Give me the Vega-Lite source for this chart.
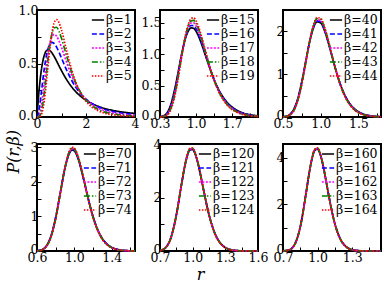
{
"$schema": "https://vega.github.io/schema/vega-lite/v6.json",
"padding": {"left": 3, "right": 2, "top": 3, "bottom": 2},
"background": "white",
"config": {
 "font": "DejaVu Serif",
 "view": {"stroke": "black", "strokeWidth": 2},
 "axis": {"domain": false, "grid": false, "ticks": true, "tickColor": "black", "tickSize": -4, "tickWidth": 1, "labelFont": "DejaVu Serif", "labelFontSize": 12.5, "labelColor": "black", "labelPadding": 3, "labelFlush": false, "labelOverlap": false, "titleFont": "DejaVu Serif", "titleFontSize": 16, "titleFontStyle": "italic", "titleFontWeight": "normal", "titleColor": "black"},
 "axisX": {"labelPadding": 4},
 "legend": {"orient": "top-right", "offset": 3, "padding": 0, "symbolType": "stroke", "symbolSize": 150, "symbolStrokeWidth": 1.8, "labelFont": "DejaVu Serif", "labelFontSize": 12.5, "labelColor": "black", "labelOffset": 1, "rowPadding": -1.5},
 "line": {"strokeWidth": 1.7, "interpolate": "monotone", "clip": true}
},
"datasets": {
"p1": [
{"b":"β=1","r":0,"P":0},{"b":"β=1","r":0.05,"P":0.156},{"b":"β=1","r":0.1,"P":0.286},{"b":"β=1","r":0.2,"P":0.473},{"b":"β=1","r":0.3,"P":0.578},{"b":"β=1","r":0.4,"P":0.622},{"b":"β=1","r":0.5,"P":0.625},{"b":"β=1","r":0.6,"P":0.602},{"b":"β=1","r":0.7,"P":0.566},{"b":"β=1","r":0.8,"P":0.523},{"b":"β=1","r":0.9,"P":0.477},{"b":"β=1","r":1,"P":0.433},{"b":"β=1","r":1.2,"P":0.353},{"b":"β=1","r":1.4,"P":0.286},{"b":"β=1","r":1.6,"P":0.232},{"b":"β=1","r":1.8,"P":0.19},{"b":"β=1","r":2,"P":0.156},{"b":"β=1","r":2.5,"P":0.0995},{"b":"β=1","r":3,"P":0.0665},{"b":"β=1","r":3.5,"P":0.0463},{"b":"β=1","r":4,"P":0.0334},
{"b":"β=2","r":0,"P":0},{"b":"β=2","r":0.05,"P":0.0251},{"b":"β=2","r":0.1,"P":0.089},{"b":"β=2","r":0.2,"P":0.272},{"b":"β=2","r":0.3,"P":0.455},{"b":"β=2","r":0.4,"P":0.591},{"b":"β=2","r":0.5,"P":0.67},{"b":"β=2","r":0.6,"P":0.697},{"b":"β=2","r":0.7,"P":0.687},{"b":"β=2","r":0.8,"P":0.653},{"b":"β=2","r":0.9,"P":0.605},{"b":"β=2","r":1,"P":0.551},{"b":"β=2","r":1.2,"P":0.443},{"b":"β=2","r":1.4,"P":0.349},{"b":"β=2","r":1.6,"P":0.2725},{"b":"β=2","r":1.8,"P":0.213},{"b":"β=2","r":2,"P":0.167},{"b":"β=2","r":2.5,"P":0.0946},{"b":"β=2","r":3,"P":0.0563},{"b":"β=2","r":3.5,"P":0.0352},{"b":"β=2","r":4,"P":0.023},
{"b":"β=3","r":0,"P":0},{"b":"β=3","r":0.05,"P":0.0037},{"b":"β=3","r":0.1,"P":0.0256},{"b":"β=3","r":0.2,"P":0.145},{"b":"β=3","r":0.3,"P":0.331},{"b":"β=3","r":0.4,"P":0.52},{"b":"β=3","r":0.5,"P":0.664},{"b":"β=3","r":0.6,"P":0.747},{"b":"β=3","r":0.7,"P":0.773},{"b":"β=3","r":0.8,"P":0.755},{"b":"β=3","r":0.9,"P":0.71},{"b":"β=3","r":1,"P":0.65},{"b":"β=3","r":1.2,"P":0.516},{"b":"β=3","r":1.4,"P":0.394},{"b":"β=3","r":1.6,"P":0.296},{"b":"β=3","r":1.8,"P":0.221},{"b":"β=3","r":2,"P":0.166},{"b":"β=3","r":2.5,"P":0.0832},{"b":"β=3","r":3,"P":0.0441},{"b":"β=3","r":3.5,"P":0.0247},{"b":"β=3","r":4,"P":0.0146},
{"b":"β=4","r":0,"P":0},{"b":"β=4","r":0.05,"P":0.0005},{"b":"β=4","r":0.1,"P":0.0071},{"b":"β=4","r":0.2,"P":0.074},{"b":"β=4","r":0.3,"P":0.232},{"b":"β=4","r":0.4,"P":0.44},{"b":"β=4","r":0.5,"P":0.633},{"b":"β=4","r":0.6,"P":0.768},{"b":"β=4","r":0.7,"P":0.834},{"b":"β=4","r":0.8,"P":0.839},{"b":"β=4","r":0.9,"P":0.8},{"b":"β=4","r":1,"P":0.735},{"b":"β=4","r":1.2,"P":0.577},{"b":"β=4","r":1.4,"P":0.428},{"b":"β=4","r":1.6,"P":0.309},{"b":"β=4","r":1.8,"P":0.221},{"b":"β=4","r":2,"P":0.158},{"b":"β=4","r":2.5,"P":0.0703},{"b":"β=4","r":3,"P":0.0332},{"b":"β=4","r":3.5,"P":0.0167},{"b":"β=4","r":4,"P":0.0089},
{"b":"β=5","r":0,"P":0},{"b":"β=5","r":0.05,"P":0.0001},{"b":"β=5","r":0.1,"P":0.0019},{"b":"β=5","r":0.2,"P":0.037},{"b":"β=5","r":0.3,"P":0.158},{"b":"β=5","r":0.4,"P":0.362},{"b":"β=5","r":0.5,"P":0.588},{"b":"β=5","r":0.6,"P":0.771},{"b":"β=5","r":0.7,"P":0.879},{"b":"β=5","r":0.8,"P":0.91},{"b":"β=5","r":0.9,"P":0.88},{"b":"β=5","r":1,"P":0.812},{"b":"β=5","r":1.2,"P":0.629},{"b":"β=5","r":1.4,"P":0.453},{"b":"β=5","r":1.6,"P":0.315},{"b":"β=5","r":1.8,"P":0.215},{"b":"β=5","r":2,"P":0.147},{"b":"β=5","r":2.5,"P":0.058},{"b":"β=5","r":3,"P":0.0244},{"b":"β=5","r":3.5,"P":0.011},{"b":"β=5","r":4,"P":0.0053}
],
"p2": [
{"b":"β=15","r":0.3,"P":0.0022},{"b":"β=15","r":0.4,"P":0.0327},{"b":"β=15","r":0.5,"P":0.1758},{"b":"β=15","r":0.6,"P":0.4974},{"b":"β=15","r":0.7,"P":0.9191},{"b":"β=15","r":0.75,"P":1.1122},{"b":"β=15","r":0.8,"P":1.2659},{"b":"β=15","r":0.85,"P":1.3681},{"b":"β=15","r":0.9,"P":1.415},{"b":"β=15","r":0.95,"P":1.4099},{"b":"β=15","r":1,"P":1.3606},{"b":"β=15","r":1.05,"P":1.2776},{"b":"β=15","r":1.1,"P":1.1718},{"b":"β=15","r":1.2,"P":0.9307},{"b":"β=15","r":1.3,"P":0.6964},{"b":"β=15","r":1.4,"P":0.4986},{"b":"β=15","r":1.5,"P":0.3458},{"b":"β=15","r":1.6,"P":0.2343},{"b":"β=15","r":1.8,"P":0.103},{"b":"β=15","r":2,"P":0.044},{"b":"β=15","r":2.2,"P":0.0187},
{"b":"β=16","r":0.3,"P":0.0014},{"b":"β=16","r":0.4,"P":0.0252},{"b":"β=16","r":0.5,"P":0.1527},{"b":"β=16","r":0.6,"P":0.4664},{"b":"β=16","r":0.7,"P":0.9046},{"b":"β=16","r":0.75,"P":1.1127},{"b":"β=16","r":0.8,"P":1.282},{"b":"β=16","r":0.85,"P":1.3977},{"b":"β=16","r":0.9,"P":1.4539},{"b":"β=16","r":0.95,"P":1.4532},{"b":"β=16","r":1,"P":1.4037},{"b":"β=16","r":1.05,"P":1.3169},{"b":"β=16","r":1.1,"P":1.2049},{"b":"β=16","r":1.2,"P":0.9483},{"b":"β=16","r":1.3,"P":0.7003},{"b":"β=16","r":1.4,"P":0.4933},{"b":"β=16","r":1.5,"P":0.3357},{"b":"β=16","r":1.6,"P":0.2229},{"b":"β=16","r":1.8,"P":0.0937},{"b":"β=16","r":2,"P":0.0382},{"b":"β=16","r":2.2,"P":0.0154},
{"b":"β=17","r":0.3,"P":0.0009},{"b":"β=17","r":0.4,"P":0.0194},{"b":"β=17","r":0.5,"P":0.1324},{"b":"β=17","r":0.6,"P":0.4366},{"b":"β=17","r":0.7,"P":0.8887},{"b":"β=17","r":0.75,"P":1.1111},{"b":"β=17","r":0.8,"P":1.2959},{"b":"β=17","r":0.85,"P":1.4252},{"b":"β=17","r":0.9,"P":1.4911},{"b":"β=17","r":0.95,"P":1.4951},{"b":"β=17","r":1,"P":1.4456},{"b":"β=17","r":1.05,"P":1.355},{"b":"β=17","r":1.1,"P":1.2366},{"b":"β=17","r":1.2,"P":0.9646},{"b":"β=17","r":1.3,"P":0.7029},{"b":"β=17","r":1.4,"P":0.4871},{"b":"β=17","r":1.5,"P":0.3254},{"b":"β=17","r":1.6,"P":0.2117},{"b":"β=17","r":1.8,"P":0.0851},{"b":"β=17","r":2,"P":0.0331},{"b":"β=17","r":2.2,"P":0.0128},
{"b":"β=18","r":0.3,"P":0.0006},{"b":"β=18","r":0.4,"P":0.0149},{"b":"β=18","r":0.5,"P":0.1146},{"b":"β=18","r":0.6,"P":0.408},{"b":"β=18","r":0.7,"P":0.8717},{"b":"β=18","r":0.75,"P":1.1078},{"b":"β=18","r":0.8,"P":1.3079},{"b":"β=18","r":0.85,"P":1.451},{"b":"β=18","r":0.9,"P":1.5266},{"b":"β=18","r":0.95,"P":1.5356},{"b":"β=18","r":1,"P":1.4863},{"b":"β=18","r":1.05,"P":1.3919},{"b":"β=18","r":1.1,"P":1.2671},{"b":"β=18","r":1.2,"P":0.9795},{"b":"β=18","r":1.3,"P":0.7044},{"b":"β=18","r":1.4,"P":0.4802},{"b":"β=18","r":1.5,"P":0.3148},{"b":"β=18","r":1.6,"P":0.2007},{"b":"β=18","r":1.8,"P":0.0772},{"b":"β=18","r":2,"P":0.0286},{"b":"β=18","r":2.2,"P":0.0105},
{"b":"β=19","r":0.3,"P":0.0004},{"b":"β=19","r":0.4,"P":0.0114},{"b":"β=19","r":0.5,"P":0.099},{"b":"β=19","r":0.6,"P":0.3808},{"b":"β=19","r":0.7,"P":0.8537},{"b":"β=19","r":0.75,"P":1.1028},{"b":"β=19","r":0.8,"P":1.318},{"b":"β=19","r":0.85,"P":1.475},{"b":"β=19","r":0.9,"P":1.5608},{"b":"β=19","r":0.95,"P":1.575},{"b":"β=19","r":1,"P":1.5259},{"b":"β=19","r":1.05,"P":1.4277},{"b":"β=19","r":1.1,"P":1.2964},{"b":"β=19","r":1.2,"P":0.9932},{"b":"β=19","r":1.3,"P":0.7048},{"b":"β=19","r":1.4,"P":0.4728},{"b":"β=19","r":1.5,"P":0.3042},{"b":"β=19","r":1.6,"P":0.19},{"b":"β=19","r":1.8,"P":0.0699},{"b":"β=19","r":2,"P":0.0247},{"b":"β=19","r":2.2,"P":0.0087}
],
"p3": [
{"b":"β=40","r":0.5,"P":0.0038},{"b":"β=40","r":0.55,"P":0.02},{"b":"β=40","r":0.6,"P":0.0739},{"b":"β=40","r":0.65,"P":0.2066},{"b":"β=40","r":0.7,"P":0.4572},{"b":"β=40","r":0.75,"P":0.8324},{"b":"β=40","r":0.8,"P":1.2856},{"b":"β=40","r":0.85,"P":1.7271},{"b":"β=40","r":0.9,"P":2.061},{"b":"β=40","r":0.95,"P":2.223},{"b":"β=40","r":1,"P":2.1989},{"b":"β=40","r":1.05,"P":2.0191},{"b":"β=40","r":1.1,"P":1.7392},{"b":"β=40","r":1.15,"P":1.4179},{"b":"β=40","r":1.2,"P":1.1024},{"b":"β=40","r":1.25,"P":0.8227},{"b":"β=40","r":1.3,"P":0.5927},{"b":"β=40","r":1.35,"P":0.4143},{"b":"β=40","r":1.4,"P":0.282},{"b":"β=40","r":1.45,"P":0.1877},{"b":"β=40","r":1.5,"P":0.1225},{"b":"β=40","r":1.55,"P":0.0787},{"b":"β=40","r":1.6,"P":0.0498},{"b":"β=40","r":1.7,"P":0.0193},{"b":"β=40","r":1.8,"P":0.0072},
{"b":"β=41","r":0.5,"P":0.0033},{"b":"β=41","r":0.55,"P":0.0177},{"b":"β=41","r":0.6,"P":0.068},{"b":"β=41","r":0.65,"P":0.1953},{"b":"β=41","r":0.7,"P":0.4416},{"b":"β=41","r":0.75,"P":0.8171},{"b":"β=41","r":0.8,"P":1.2774},{"b":"β=41","r":0.85,"P":1.7311},{"b":"β=41","r":0.9,"P":2.0776},{"b":"β=41","r":0.95,"P":2.248},{"b":"β=41","r":1,"P":2.2258},{"b":"β=41","r":1.05,"P":2.042},{"b":"β=41","r":1.1,"P":1.7547},{"b":"β=41","r":1.15,"P":1.4248},{"b":"β=41","r":1.2,"P":1.1021},{"b":"β=41","r":1.25,"P":0.8175},{"b":"β=41","r":1.3,"P":0.5848},{"b":"β=41","r":1.35,"P":0.4055},{"b":"β=41","r":1.4,"P":0.2737},{"b":"β=41","r":1.45,"P":0.1806},{"b":"β=41","r":1.5,"P":0.1167},{"b":"β=41","r":1.55,"P":0.0742},{"b":"β=41","r":1.6,"P":0.0465},{"b":"β=41","r":1.7,"P":0.0176},{"b":"β=41","r":1.8,"P":0.0065},
{"b":"β=42","r":0.5,"P":0.0028},{"b":"β=42","r":0.55,"P":0.0158},{"b":"β=42","r":0.6,"P":0.0625},{"b":"β=42","r":0.65,"P":0.1846},{"b":"β=42","r":0.7,"P":0.4263},{"b":"β=42","r":0.75,"P":0.8018},{"b":"β=42","r":0.8,"P":1.2689},{"b":"β=42","r":0.85,"P":1.7346},{"b":"β=42","r":0.9,"P":2.0941},{"b":"β=42","r":0.95,"P":2.2727},{"b":"β=42","r":1,"P":2.2525},{"b":"β=42","r":1.05,"P":2.0646},{"b":"β=42","r":1.1,"P":1.7697},{"b":"β=42","r":1.15,"P":1.4314},{"b":"β=42","r":1.2,"P":1.1016},{"b":"β=42","r":1.25,"P":0.8121},{"b":"β=42","r":1.3,"P":0.5768},{"b":"β=42","r":1.35,"P":0.3969},{"b":"β=42","r":1.4,"P":0.2656},{"b":"β=42","r":1.45,"P":0.1736},{"b":"β=42","r":1.5,"P":0.1112},{"b":"β=42","r":1.55,"P":0.07},{"b":"β=42","r":1.6,"P":0.0434},{"b":"β=42","r":1.7,"P":0.0161},{"b":"β=42","r":1.8,"P":0.0058},
{"b":"β=43","r":0.5,"P":0.0024},{"b":"β=43","r":0.55,"P":0.014},{"b":"β=43","r":0.6,"P":0.0575},{"b":"β=43","r":0.65,"P":0.1744},{"b":"β=43","r":0.7,"P":0.4114},{"b":"β=43","r":0.75,"P":0.7866},{"b":"β=43","r":0.8,"P":1.2601},{"b":"β=43","r":0.85,"P":1.7376},{"b":"β=43","r":0.9,"P":2.1095},{"b":"β=43","r":0.95,"P":2.297},{"b":"β=43","r":1,"P":2.2788},{"b":"β=43","r":1.05,"P":2.0868},{"b":"β=43","r":1.1,"P":1.7843},{"b":"β=43","r":1.15,"P":1.4376},{"b":"β=43","r":1.2,"P":1.1007},{"b":"β=43","r":1.25,"P":0.8064},{"b":"β=43","r":1.3,"P":0.5688},{"b":"β=43","r":1.35,"P":0.3883},{"b":"β=43","r":1.4,"P":0.2577},{"b":"β=43","r":1.45,"P":0.1669},{"b":"β=43","r":1.5,"P":0.1058},{"b":"β=43","r":1.55,"P":0.066},{"b":"β=43","r":1.6,"P":0.0405},{"b":"β=43","r":1.7,"P":0.0147},{"b":"β=43","r":1.8,"P":0.0052},
{"b":"β=44","r":0.5,"P":0.002},{"b":"β=44","r":0.55,"P":0.0125},{"b":"β=44","r":0.6,"P":0.0529},{"b":"β=44","r":0.65,"P":0.1647},{"b":"β=44","r":0.7,"P":0.3969},{"b":"β=44","r":0.75,"P":0.7714},{"b":"β=44","r":0.8,"P":1.251},{"b":"β=44","r":0.85,"P":1.7402},{"b":"β=44","r":0.9,"P":2.1247},{"b":"β=44","r":0.95,"P":2.321},{"b":"β=44","r":1,"P":2.3049},{"b":"β=44","r":1.05,"P":2.1089},{"b":"β=44","r":1.1,"P":1.7986},{"b":"β=44","r":1.15,"P":1.4434},{"b":"β=44","r":1.2,"P":1.0995},{"b":"β=44","r":1.25,"P":0.8006},{"b":"β=44","r":1.3,"P":0.5607},{"b":"β=44","r":1.35,"P":0.3798},{"b":"β=44","r":1.4,"P":0.2499},{"b":"β=44","r":1.45,"P":0.1604},{"b":"β=44","r":1.5,"P":0.1008},{"b":"β=44","r":1.55,"P":0.0622},{"b":"β=44","r":1.6,"P":0.0378},{"b":"β=44","r":1.7,"P":0.0134},{"b":"β=44","r":1.8,"P":0.0046}
],
"p4": [
{"b":"β=70","r":0.6,"P":0.0056},{"b":"β=70","r":0.65,"P":0.0351},{"b":"β=70","r":0.7,"P":0.1467},{"b":"β=70","r":0.75,"P":0.4361},{"b":"β=70","r":0.8,"P":0.9713},{"b":"β=70","r":0.85,"P":1.6942},{"b":"β=70","r":0.9,"P":2.4001},{"b":"β=70","r":0.95,"P":2.8473},{"b":"β=70","r":0.975,"P":2.9251},{"b":"β=70","r":1,"P":2.9009},{"b":"β=70","r":1.025,"P":2.7847},{"b":"β=70","r":1.05,"P":2.5935},{"b":"β=70","r":1.1,"P":2.072},{"b":"β=70","r":1.15,"P":1.5022},{"b":"β=70","r":1.2,"P":1.0018},{"b":"β=70","r":1.25,"P":0.6216},{"b":"β=70","r":1.3,"P":0.3623},{"b":"β=70","r":1.35,"P":0.2002},{"b":"β=70","r":1.4,"P":0.1056},{"b":"β=70","r":1.45,"P":0.0535},{"b":"β=70","r":1.5,"P":0.0262},{"b":"β=70","r":1.55,"P":0.0125},{"b":"β=70","r":1.6,"P":0.0058},{"b":"β=70","r":1.65,"P":0.0026},
{"b":"β=71","r":0.6,"P":0.0051},{"b":"β=71","r":0.65,"P":0.033},{"b":"β=71","r":0.7,"P":0.141},{"b":"β=71","r":0.75,"P":0.4258},{"b":"β=71","r":0.8,"P":0.9601},{"b":"β=71","r":0.85,"P":1.6894},{"b":"β=71","r":0.9,"P":2.407},{"b":"β=71","r":0.95,"P":2.8646},{"b":"β=71","r":0.975,"P":2.9451},{"b":"β=71","r":1,"P":2.9214},{"b":"β=71","r":1.025,"P":2.8037},{"b":"β=71","r":1.05,"P":2.6095},{"b":"β=71","r":1.1,"P":2.0796},{"b":"β=71","r":1.15,"P":1.5018},{"b":"β=71","r":1.2,"P":0.9965},{"b":"β=71","r":1.25,"P":0.6144},{"b":"β=71","r":1.3,"P":0.3557},{"b":"β=71","r":1.35,"P":0.195},{"b":"β=71","r":1.4,"P":0.1019},{"b":"β=71","r":1.45,"P":0.0512},{"b":"β=71","r":1.5,"P":0.0248},{"b":"β=71","r":1.55,"P":0.0117},{"b":"β=71","r":1.6,"P":0.0054},{"b":"β=71","r":1.65,"P":0.0024},
{"b":"β=72","r":0.6,"P":0.0047},{"b":"β=72","r":0.65,"P":0.031},{"b":"β=72","r":0.7,"P":0.1354},{"b":"β=72","r":0.75,"P":0.4158},{"b":"β=72","r":0.8,"P":0.949},{"b":"β=72","r":0.85,"P":1.6845},{"b":"β=72","r":0.9,"P":2.4137},{"b":"β=72","r":0.95,"P":2.8817},{"b":"β=72","r":0.975,"P":2.9649},{"b":"β=72","r":1,"P":2.9418},{"b":"β=72","r":1.025,"P":2.8226},{"b":"β=72","r":1.05,"P":2.6253},{"b":"β=72","r":1.1,"P":2.087},{"b":"β=72","r":1.15,"P":1.5012},{"b":"β=72","r":1.2,"P":0.991},{"b":"β=72","r":1.25,"P":0.6073},{"b":"β=72","r":1.3,"P":0.3491},{"b":"β=72","r":1.35,"P":0.1899},{"b":"β=72","r":1.4,"P":0.0984},{"b":"β=72","r":1.45,"P":0.049},{"b":"β=72","r":1.5,"P":0.0235},{"b":"β=72","r":1.55,"P":0.011},{"b":"β=72","r":1.6,"P":0.005},{"b":"β=72","r":1.65,"P":0.0022},
{"b":"β=73","r":0.6,"P":0.0043},{"b":"β=73","r":0.65,"P":0.0292},{"b":"β=73","r":0.7,"P":0.13},{"b":"β=73","r":0.75,"P":0.406},{"b":"β=73","r":0.8,"P":0.9379},{"b":"β=73","r":0.85,"P":1.6794},{"b":"β=73","r":0.9,"P":2.4202},{"b":"β=73","r":0.95,"P":2.8986},{"b":"β=73","r":0.975,"P":2.9846},{"b":"β=73","r":1,"P":2.962},{"b":"β=73","r":1.025,"P":2.8413},{"b":"β=73","r":1.05,"P":2.641},{"b":"β=73","r":1.1,"P":2.0942},{"b":"β=73","r":1.15,"P":1.5005},{"b":"β=73","r":1.2,"P":0.9855},{"b":"β=73","r":1.25,"P":0.6003},{"b":"β=73","r":1.3,"P":0.3426},{"b":"β=73","r":1.35,"P":0.1849},{"b":"β=73","r":1.4,"P":0.095},{"b":"β=73","r":1.45,"P":0.0468},{"b":"β=73","r":1.5,"P":0.0223},{"b":"β=73","r":1.55,"P":0.0103},{"b":"β=73","r":1.6,"P":0.0046},{"b":"β=73","r":1.65,"P":0.002},
{"b":"β=74","r":0.6,"P":0.0039},{"b":"β=74","r":0.65,"P":0.0274},{"b":"β=74","r":0.7,"P":0.1249},{"b":"β=74","r":0.75,"P":0.3963},{"b":"β=74","r":0.8,"P":0.9269},{"b":"β=74","r":0.85,"P":1.6741},{"b":"β=74","r":0.9,"P":2.4265},{"b":"β=74","r":0.95,"P":2.9154},{"b":"β=74","r":0.975,"P":3.004},{"b":"β=74","r":1,"P":2.9821},{"b":"β=74","r":1.025,"P":2.8599},{"b":"β=74","r":1.05,"P":2.6566},{"b":"β=74","r":1.1,"P":2.1012},{"b":"β=74","r":1.15,"P":1.4997},{"b":"β=74","r":1.2,"P":0.9799},{"b":"β=74","r":1.25,"P":0.5932},{"b":"β=74","r":1.3,"P":0.3362},{"b":"β=74","r":1.35,"P":0.1799},{"b":"β=74","r":1.4,"P":0.0917},{"b":"β=74","r":1.45,"P":0.0448},{"b":"β=74","r":1.5,"P":0.0211},{"b":"β=74","r":1.55,"P":0.0096},{"b":"β=74","r":1.6,"P":0.0043},{"b":"β=74","r":1.65,"P":0.0019}
],
"p5": [
{"b":"β=120","r":0.7,"P":0.0182},{"b":"β=120","r":0.75,"P":0.1223},{"b":"β=120","r":0.8,"P":0.5014},{"b":"β=120","r":0.85,"P":1.3516},{"b":"β=120","r":0.9,"P":2.5485},{"b":"β=120","r":0.925,"P":3.1128},{"b":"β=120","r":0.95,"P":3.5432},{"b":"β=120","r":0.975,"P":3.7787},{"b":"β=120","r":1,"P":3.7926},{"b":"β=120","r":1.025,"P":3.5991},{"b":"β=120","r":1.05,"P":3.2428},{"b":"β=120","r":1.075,"P":2.7834},{"b":"β=120","r":1.1,"P":2.285},{"b":"β=120","r":1.15,"P":1.3625},{"b":"β=120","r":1.2,"P":0.7037},{"b":"β=120","r":1.25,"P":0.3209},{"b":"β=120","r":1.3,"P":0.1314},{"b":"β=120","r":1.35,"P":0.0491},{"b":"β=120","r":1.4,"P":0.0169},{"b":"β=120","r":1.45,"P":0.0054},{"b":"β=120","r":1.5,"P":0.0017},{"b":"β=120","r":1.55,"P":0.0005},{"b":"β=120","r":1.6,"P":0.0001},
{"b":"β=121","r":0.7,"P":0.0174},{"b":"β=121","r":0.75,"P":0.1191},{"b":"β=121","r":0.8,"P":0.4943},{"b":"β=121","r":0.85,"P":1.3439},{"b":"β=121","r":0.9,"P":2.5485},{"b":"β=121","r":0.925,"P":3.1186},{"b":"β=121","r":0.95,"P":3.5543},{"b":"β=121","r":0.975,"P":3.7934},{"b":"β=121","r":1,"P":3.8084},{"b":"β=121","r":1.025,"P":3.6131},{"b":"β=121","r":1.05,"P":3.2533},{"b":"β=121","r":1.075,"P":2.7894},{"b":"β=121","r":1.1,"P":2.2867},{"b":"β=121","r":1.15,"P":1.3582},{"b":"β=121","r":1.2,"P":0.6979},{"b":"β=121","r":1.25,"P":0.3163},{"b":"β=121","r":1.3,"P":0.1286},{"b":"β=121","r":1.35,"P":0.0476},{"b":"β=121","r":1.4,"P":0.0163},{"b":"β=121","r":1.45,"P":0.0052},{"b":"β=121","r":1.5,"P":0.0016},{"b":"β=121","r":1.55,"P":0.0004},{"b":"β=121","r":1.6,"P":0.0001},
{"b":"β=122","r":0.7,"P":0.0167},{"b":"β=122","r":0.75,"P":0.1159},{"b":"β=122","r":0.8,"P":0.4871},{"b":"β=122","r":0.85,"P":1.3361},{"b":"β=122","r":0.9,"P":2.5483},{"b":"β=122","r":0.925,"P":3.1243},{"b":"β=122","r":0.95,"P":3.5654},{"b":"β=122","r":0.975,"P":3.8081},{"b":"β=122","r":1,"P":3.824},{"b":"β=122","r":1.025,"P":3.6271},{"b":"β=122","r":1.05,"P":3.2638},{"b":"β=122","r":1.075,"P":2.7954},{"b":"β=122","r":1.1,"P":2.2883},{"b":"β=122","r":1.15,"P":1.3538},{"b":"β=122","r":1.2,"P":0.6921},{"b":"β=122","r":1.25,"P":0.3117},{"b":"β=122","r":1.3,"P":0.1259},{"b":"β=122","r":1.35,"P":0.0463},{"b":"β=122","r":1.4,"P":0.0157},{"b":"β=122","r":1.45,"P":0.005},{"b":"β=122","r":1.5,"P":0.0015},{"b":"β=122","r":1.55,"P":0.0004},{"b":"β=122","r":1.6,"P":0.0001},
{"b":"β=123","r":0.7,"P":0.016},{"b":"β=123","r":0.75,"P":0.1129},{"b":"β=123","r":0.8,"P":0.4801},{"b":"β=123","r":0.85,"P":1.3284},{"b":"β=123","r":0.9,"P":2.5481},{"b":"β=123","r":0.925,"P":3.1299},{"b":"β=123","r":0.95,"P":3.5764},{"b":"β=123","r":0.975,"P":3.8227},{"b":"β=123","r":1,"P":3.8396},{"b":"β=123","r":1.025,"P":3.6411},{"b":"β=123","r":1.05,"P":3.2741},{"b":"β=123","r":1.075,"P":2.8013},{"b":"β=123","r":1.1,"P":2.2898},{"b":"β=123","r":1.15,"P":1.3495},{"b":"β=123","r":1.2,"P":0.6863},{"b":"β=123","r":1.25,"P":0.3072},{"b":"β=123","r":1.3,"P":0.1232},{"b":"β=123","r":1.35,"P":0.0449},{"b":"β=123","r":1.4,"P":0.0151},{"b":"β=123","r":1.45,"P":0.0047},{"b":"β=123","r":1.5,"P":0.0014},{"b":"β=123","r":1.55,"P":0.0004},{"b":"β=123","r":1.6,"P":0.0001},
{"b":"β=124","r":0.7,"P":0.0153},{"b":"β=124","r":0.75,"P":0.1099},{"b":"β=124","r":0.8,"P":0.4732},{"b":"β=124","r":0.85,"P":1.3206},{"b":"β=124","r":0.9,"P":2.5477},{"b":"β=124","r":0.925,"P":3.1354},{"b":"β=124","r":0.95,"P":3.5873},{"b":"β=124","r":0.975,"P":3.8372},{"b":"β=124","r":1,"P":3.8551},{"b":"β=124","r":1.025,"P":3.6549},{"b":"β=124","r":1.05,"P":3.2844},{"b":"β=124","r":1.075,"P":2.8071},{"b":"β=124","r":1.1,"P":2.2912},{"b":"β=124","r":1.15,"P":1.345},{"b":"β=124","r":1.2,"P":0.6806},{"b":"β=124","r":1.25,"P":0.3028},{"b":"β=124","r":1.3,"P":0.1206},{"b":"β=124","r":1.35,"P":0.0436},{"b":"β=124","r":1.4,"P":0.0145},{"b":"β=124","r":1.45,"P":0.0045},{"b":"β=124","r":1.5,"P":0.0013},{"b":"β=124","r":1.55,"P":0.0004},{"b":"β=124","r":1.6,"P":0.0001}
],
"p6": [
{"b":"β=160","r":0.7,"P":0.0032},{"b":"β=160","r":0.75,"P":0.0412},{"b":"β=160","r":0.8,"P":0.2752},{"b":"β=160","r":0.85,"P":1.0507},{"b":"β=160","r":0.9,"P":2.4904},{"b":"β=160","r":0.925,"P":3.2795},{"b":"β=160","r":0.95,"P":3.9311},{"b":"β=160","r":0.975,"P":4.3194},{"b":"β=160","r":1,"P":4.3771},{"b":"β=160","r":1.025,"P":4.116},{"b":"β=160","r":1.05,"P":3.6113},{"b":"β=160","r":1.075,"P":2.97},{"b":"β=160","r":1.1,"P":2.3015},{"b":"β=160","r":1.15,"P":1.1737},{"b":"β=160","r":1.2,"P":0.494},{"b":"β=160","r":1.25,"P":0.1761},{"b":"β=160","r":1.3,"P":0.0544},{"b":"β=160","r":1.35,"P":0.0148},{"b":"β=160","r":1.4,"P":0.0036},{"b":"β=160","r":1.45,"P":0.0008},{"b":"β=160","r":1.5,"P":0.0002},{"b":"β=160","r":1.55,"P":0},
{"b":"β=161","r":0.7,"P":0.0031},{"b":"β=161","r":0.75,"P":0.0401},{"b":"β=161","r":0.8,"P":0.271},{"b":"β=161","r":0.85,"P":1.0436},{"b":"β=161","r":0.9,"P":2.4878},{"b":"β=161","r":0.925,"P":3.2822},{"b":"β=161","r":0.95,"P":3.9394},{"b":"β=161","r":0.975,"P":4.3318},{"b":"β=161","r":1,"P":4.3907},{"b":"β=161","r":1.025,"P":4.1279},{"b":"β=161","r":1.05,"P":3.6193},{"b":"β=161","r":1.075,"P":2.9734},{"b":"β=161","r":1.1,"P":2.3008},{"b":"β=161","r":1.15,"P":1.1688},{"b":"β=161","r":1.2,"P":0.4895},{"b":"β=161","r":1.25,"P":0.1734},{"b":"β=161","r":1.3,"P":0.0532},{"b":"β=161","r":1.35,"P":0.0144},{"b":"β=161","r":1.4,"P":0.0035},{"b":"β=161","r":1.45,"P":0.0008},{"b":"β=161","r":1.5,"P":0.0002},{"b":"β=161","r":1.55,"P":0},
{"b":"β=162","r":0.7,"P":0.0029},{"b":"β=162","r":0.75,"P":0.039},{"b":"β=162","r":0.8,"P":0.2668},{"b":"β=162","r":0.85,"P":1.0366},{"b":"β=162","r":0.9,"P":2.4851},{"b":"β=162","r":0.925,"P":3.2848},{"b":"β=162","r":0.95,"P":3.9477},{"b":"β=162","r":0.975,"P":4.3442},{"b":"β=162","r":1,"P":4.4043},{"b":"β=162","r":1.025,"P":4.1397},{"b":"β=162","r":1.05,"P":3.6273},{"b":"β=162","r":1.075,"P":2.9767},{"b":"β=162","r":1.1,"P":2.3001},{"b":"β=162","r":1.15,"P":1.1639},{"b":"β=162","r":1.2,"P":0.4849},{"b":"β=162","r":1.25,"P":0.1707},{"b":"β=162","r":1.3,"P":0.052},{"b":"β=162","r":1.35,"P":0.014},{"b":"β=162","r":1.4,"P":0.0034},{"b":"β=162","r":1.45,"P":0.0007},{"b":"β=162","r":1.5,"P":0.0002},{"b":"β=162","r":1.55,"P":0},
{"b":"β=163","r":0.7,"P":0.0028},{"b":"β=163","r":0.75,"P":0.0379},{"b":"β=163","r":0.8,"P":0.2627},{"b":"β=163","r":0.85,"P":1.0295},{"b":"β=163","r":0.9,"P":2.4824},{"b":"β=163","r":0.925,"P":3.2874},{"b":"β=163","r":0.95,"P":3.9559},{"b":"β=163","r":0.975,"P":4.3565},{"b":"β=163","r":1,"P":4.4178},{"b":"β=163","r":1.025,"P":4.1514},{"b":"β=163","r":1.05,"P":3.6352},{"b":"β=163","r":1.075,"P":2.98},{"b":"β=163","r":1.1,"P":2.2993},{"b":"β=163","r":1.15,"P":1.1589},{"b":"β=163","r":1.2,"P":0.4804},{"b":"β=163","r":1.25,"P":0.1681},{"b":"β=163","r":1.3,"P":0.0508},{"b":"β=163","r":1.35,"P":0.0135},{"b":"β=163","r":1.4,"P":0.0032},{"b":"β=163","r":1.45,"P":0.0007},{"b":"β=163","r":1.5,"P":0.0001},{"b":"β=163","r":1.55,"P":0},
{"b":"β=164","r":0.7,"P":0.0027},{"b":"β=164","r":0.75,"P":0.0369},{"b":"β=164","r":0.8,"P":0.2587},{"b":"β=164","r":0.85,"P":1.0225},{"b":"β=164","r":0.9,"P":2.4797},{"b":"β=164","r":0.925,"P":3.2899},{"b":"β=164","r":0.95,"P":3.9641},{"b":"β=164","r":0.975,"P":4.3687},{"b":"β=164","r":1,"P":4.4313},{"b":"β=164","r":1.025,"P":4.1632},{"b":"β=164","r":1.05,"P":3.643},{"b":"β=164","r":1.075,"P":2.9833},{"b":"β=164","r":1.1,"P":2.2985},{"b":"β=164","r":1.15,"P":1.154},{"b":"β=164","r":1.2,"P":0.4759},{"b":"β=164","r":1.25,"P":0.1655},{"b":"β=164","r":1.3,"P":0.0497},{"b":"β=164","r":1.35,"P":0.0131},{"b":"β=164","r":1.4,"P":0.0031},{"b":"β=164","r":1.45,"P":0.0007},{"b":"β=164","r":1.5,"P":0.0001},{"b":"β=164","r":1.55,"P":0}
]
},
"columns": 3,
"bounds": "flush",
"spacing": {"row": 27, "column": 25},
"resolve": {"scale": {"x": "independent", "y": "independent", "color": "independent", "strokeDash": "independent"}, "axis": {"x": "independent", "y": "independent"}, "legend": {"color": "independent", "strokeDash": "independent"}},
"concat": [
{"width": 98, "height": 107, "data": {"name": "p1"}, "mark": {"type": "line"},
 "encoding": {
  "x": {"field": "r", "type": "quantitative", "title": null, "scale": {"domain": [0, 4], "nice": false, "zero": false}, "axis": {"values": [0, 1, 2, 3, 4], "labelExpr": "abs(datum.value/2 - round(datum.value/2)) < 0.001 ? format(datum.value, 'd') : ''"}},
  "y": {"field": "P", "type": "quantitative", "title": null, "scale": {"domain": [0, 1], "nice": false}, "axis": {"values": [0, 0.25, 0.5, 0.75, 1], "labelOffset": {"condition": {"test": "datum.value == 0", "value": -2}, "value": 0}, "labelExpr": "abs(datum.value*2 - round(datum.value*2)) < 0.001 ? format(datum.value, '.1f') : ''"}},
  "color": {"field": "b", "type": "nominal", "title": null, "scale": {"domain": ["β=1","β=2","β=3","β=4","β=5"], "range": ["#000000","#0000ff","#ff00ff","#008000","#ff0000"]}},
  "strokeDash": {"field": "b", "type": "nominal", "title": null, "scale": {"domain": ["β=1","β=2","β=3","β=4","β=5"], "range": [[1,0],[5,2.5],[2,1.5],[6,2,1.5,2],[1.5,1.5]]}}
 }},
{"width": 98, "height": 107, "data": {"name": "p2"}, "mark": {"type": "line"},
 "encoding": {
  "x": {"field": "r", "type": "quantitative", "title": null, "scale": {"domain": [0.3, 2.2], "nice": false, "zero": false}, "axis": {"values": [0.3, 0.65, 1, 1.35, 1.7, 2.05], "labelExpr": "abs((datum.value-0.3)/0.7 - round((datum.value-0.3)/0.7)) < 0.001 ? format(datum.value, '.1f') : ''"}},
  "y": {"field": "P", "type": "quantitative", "title": null, "scale": {"domain": [0, 1.7], "nice": false}, "axis": {"values": [0, 0.25, 0.5, 0.75, 1, 1.25, 1.5], "labelOffset": {"condition": {"test": "datum.value == 0", "value": -2}, "value": 0}, "labelExpr": "abs(datum.value*2 - round(datum.value*2)) < 0.001 ? format(datum.value, '.1f') : ''"}},
  "color": {"field": "b", "type": "nominal", "title": null, "scale": {"domain": ["β=15","β=16","β=17","β=18","β=19"], "range": ["#000000","#0000ff","#ff00ff","#008000","#ff0000"]}},
  "strokeDash": {"field": "b", "type": "nominal", "title": null, "scale": {"domain": ["β=15","β=16","β=17","β=18","β=19"], "range": [[1,0],[5,2.5],[2,1.5],[6,2,1.5,2],[1.5,1.5]]}}
 }},
{"width": 98, "height": 107, "data": {"name": "p3"}, "mark": {"type": "line"},
 "encoding": {
  "x": {"field": "r", "type": "quantitative", "title": null, "scale": {"domain": [0.5, 1.8], "nice": false, "zero": false}, "axis": {"values": [0.5, 0.75, 1, 1.25, 1.5, 1.75], "labelExpr": "abs(datum.value*2 - round(datum.value*2)) < 0.001 ? format(datum.value, '.1f') : ''"}},
  "y": {"field": "P", "type": "quantitative", "title": null, "scale": {"domain": [0, 2.5], "nice": false}, "axis": {"values": [0, 0.5, 1, 1.5, 2], "labelOffset": {"condition": {"test": "datum.value == 0", "value": -2}, "value": 0}, "labelExpr": "abs(datum.value - round(datum.value)) < 0.001 ? format(datum.value, 'd') : ''"}},
  "color": {"field": "b", "type": "nominal", "title": null, "scale": {"domain": ["β=40","β=41","β=42","β=43","β=44"], "range": ["#000000","#0000ff","#ff00ff","#008000","#ff0000"]}},
  "strokeDash": {"field": "b", "type": "nominal", "title": null, "scale": {"domain": ["β=40","β=41","β=42","β=43","β=44"], "range": [[1,0],[5,2.5],[2,1.5],[6,2,1.5,2],[1.5,1.5]]}}
 }},
{"width": 98, "height": 107, "data": {"name": "p4"}, "mark": {"type": "line"},
 "encoding": {
  "x": {"field": "r", "type": "quantitative", "title": null, "scale": {"domain": [0.6, 1.65], "nice": false, "zero": false}, "axis": {"values": [0.6, 0.8, 1, 1.2, 1.4, 1.6], "labelExpr": "abs((datum.value-0.6)/0.4 - round((datum.value-0.6)/0.4)) < 0.001 ? format(datum.value, '.1f') : ''"}},
  "y": {"field": "P", "type": "quantitative", "title": "P(r,β)", "scale": {"domain": [0, 3.1], "nice": false}, "axis": {"values": [0, 0.5, 1, 1.5, 2, 2.5, 3], "labelOffset": {"condition": {"test": "datum.value == 0", "value": -2}, "value": 0}, "labelExpr": "abs(datum.value - round(datum.value)) < 0.001 ? format(datum.value, 'd') : ''", "titleX": -16, "titleY": 29, "titleAlign": "left", "titleBaseline": "bottom", "titleAngle": 270}},
  "color": {"field": "b", "type": "nominal", "title": null, "scale": {"domain": ["β=70","β=71","β=72","β=73","β=74"], "range": ["#000000","#0000ff","#ff00ff","#008000","#ff0000"]}},
  "strokeDash": {"field": "b", "type": "nominal", "title": null, "scale": {"domain": ["β=70","β=71","β=72","β=73","β=74"], "range": [[1,0],[5,2.5],[2,1.5],[6,2,1.5,2],[1.5,1.5]]}}
 }},
{"width": 98, "height": 107, "data": {"name": "p5"}, "mark": {"type": "line"},
 "encoding": {
  "x": {"field": "r", "type": "quantitative", "title": "r", "scale": {"domain": [0.7, 1.6], "nice": false, "zero": false}, "axis": {"values": [0.7, 0.85, 1, 1.15, 1.3, 1.45, 1.6], "labelExpr": "abs((datum.value-0.7)/0.3 - round((datum.value-0.7)/0.3)) < 0.001 ? format(datum.value, '.1f') : ''", "titleX": 40, "titlePadding": 3}},
  "y": {"field": "P", "type": "quantitative", "title": null, "scale": {"domain": [0, 4], "nice": false}, "axis": {"values": [0, 1, 2, 3, 4], "labelOffset": {"condition": {"test": "datum.value == 0", "value": -2}, "value": 0}, "labelExpr": "abs(datum.value/2 - round(datum.value/2)) < 0.001 ? format(datum.value, 'd') : ''"}},
  "color": {"field": "b", "type": "nominal", "title": null, "scale": {"domain": ["β=120","β=121","β=122","β=123","β=124"], "range": ["#000000","#0000ff","#ff00ff","#008000","#ff0000"]}},
  "strokeDash": {"field": "b", "type": "nominal", "title": null, "scale": {"domain": ["β=120","β=121","β=122","β=123","β=124"], "range": [[1,0],[5,2.5],[2,1.5],[6,2,1.5,2],[1.5,1.5]]}}
 }},
{"width": 98, "height": 107, "data": {"name": "p6"}, "mark": {"type": "line"},
 "encoding": {
  "x": {"field": "r", "type": "quantitative", "title": null, "scale": {"domain": [0.7, 1.55], "nice": false, "zero": false}, "axis": {"values": [0.7, 0.85, 1, 1.15, 1.3, 1.45], "labelExpr": "abs((datum.value-0.7)/0.3 - round((datum.value-0.7)/0.3)) < 0.001 ? format(datum.value, '.1f') : ''"}},
  "y": {"field": "P", "type": "quantitative", "title": null, "scale": {"domain": [0, 4.6], "nice": false}, "axis": {"values": [0, 1, 2, 3, 4], "labelOffset": {"condition": {"test": "datum.value == 0", "value": -2}, "value": 0}, "labelExpr": "abs(datum.value/2 - round(datum.value/2)) < 0.001 ? format(datum.value, 'd') : ''"}},
  "color": {"field": "b", "type": "nominal", "title": null, "scale": {"domain": ["β=160","β=161","β=162","β=163","β=164"], "range": ["#000000","#0000ff","#ff00ff","#008000","#ff0000"]}},
  "strokeDash": {"field": "b", "type": "nominal", "title": null, "scale": {"domain": ["β=160","β=161","β=162","β=163","β=164"], "range": [[1,0],[5,2.5],[2,1.5],[6,2,1.5,2],[1.5,1.5]]}}
 }}
]
}
